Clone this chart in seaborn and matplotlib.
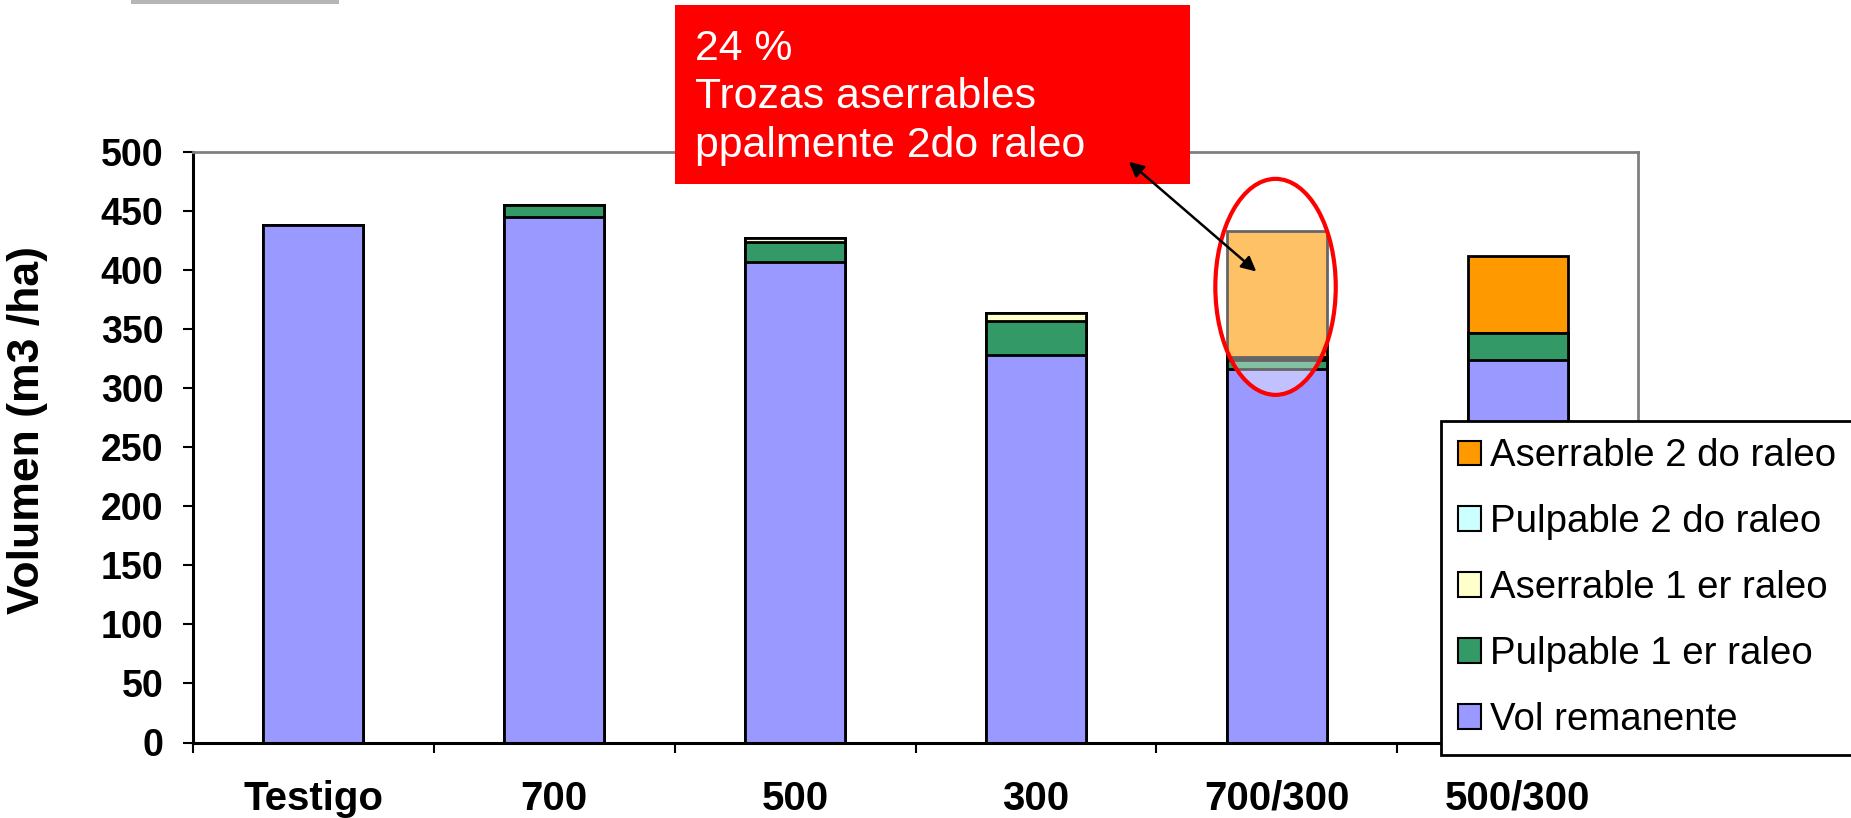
import numpy as np
import pandas as pd
import matplotlib
matplotlib.use("Agg")
import matplotlib.pyplot as plt
from matplotlib.patches import Patch, Rectangle, Ellipse
import seaborn as sns

# Treatments (thinning regimes, trees/ha)
categories = ["Testigo", "700", "500", "300", "700/300", "500/300"]

# Volume components, m3/ha
vol_remanente = [438, 445, 407, 328, 316, 324]
pulpable_1er = [0, 10, 17, 29, 8, 23]
aserrable_1er = [0, 0, 3, 7, 1, 0]
pulpable_2do = [0, 0, 0, 0, 2, 0]
aserrable_2do = [0, 0, 0, 0, 106, 65]

layer_names = ["Vol remanente", "Pulpable 1 er raleo", "Aserrable 1 er raleo",
               "Pulpable 2 do raleo", "Aserrable 2 do raleo"]
layer_values = [vol_remanente, pulpable_1er, aserrable_1er, pulpable_2do, aserrable_2do]
layer_colors = ["#9999FF", "#339966", "#FFFFCC", "#CCFFFF", "#FF9900"]

y_ticks = list(range(0, 501, 50))

sns.set_style("white")
plt.rcParams["font.family"] = ["Liberation Sans", "DejaVu Sans"]
plt.rcParams["text.color"] = "black"
plt.rcParams["axes.labelcolor"] = "black"

W, H = 1851, 818
fig = plt.figure(figsize=(W / 100, H / 100), dpi=100)
ax = fig.add_axes([193 / W, 1 - 742.5 / H, 1445 / W, 590.2 / H])

# Stacked bars: draw cumulative totals from the top layer down
cum = np.cumsum(np.array(layer_values, dtype=float), axis=0)
for i in reversed(range(len(layer_names))):
    df = pd.DataFrame({"Tratamiento": categories, "Volumen": cum[i]})
    sns.barplot(data=df, x="Tratamiento", y="Volumen", order=categories,
                color=layer_colors[i], saturation=1, edgecolor="black",
                linewidth=2.0, width=0.415, ax=ax, zorder=2, errorbar=None)

ax.set_xlim(-0.5, 5.5)
ax.set_ylim(0, 500)
ax.set_yticks(y_ticks)
ax.set_xticks(range(len(categories)))
ax.set_xticklabels(categories, fontsize=29, fontweight="bold")
ax.set_xticks(np.arange(-0.5, len(categories), 1), minor=True)
ax.tick_params(axis="x", which="major", bottom=True, length=0, pad=27,
               labelcolor="black")
ax.tick_params(axis="x", which="minor", bottom=True, length=7.2, width=1.5,
               direction="out", color="black")
ax.tick_params(axis="y", left=True, length=7.2, width=1.5, direction="out",
               color="black", labelcolor="black", labelsize=27, pad=14)
for lab in ax.get_yticklabels():
    lab.set_fontweight("bold")

ax.set_xlabel("")
ax.set_ylabel("Volumen (m3 /ha)", fontsize=32, fontweight="bold", color="black")
ax.yaxis.set_label_coords(-0.1, 0.53)

for s in ["top", "right"]:
    ax.spines[s].set_color("#808080")
    ax.spines[s].set_linewidth(2)
for s in ["left", "bottom"]:
    ax.spines[s].set_color("black")
    ax.spines[s].set_linewidth(2.2)

# Highlight of the second-thinning sawlog share
ax.add_patch(Ellipse((3.995, 386), width=0.5, height=183,
                     facecolor=(1, 1, 1, 0.4), edgecolor="#FF0000",
                     linewidth=3, zorder=4))

# Callout box
ax.add_patch(Rectangle((675 / W, 1 - 184 / H), 515 / W, 179 / H,
                       transform=fig.transFigure, facecolor="#FF0000",
                       edgecolor="none", clip_on=False, zorder=6))
ax.text(695 / W, 1 - 29 / H, "24 %\nTrozas aserrables\nppalmente 2do raleo",
        transform=fig.transFigure, color="white", fontsize=30.75, ha="left",
        va="top", linespacing=1.27, zorder=7)
ax.annotate("", xy=(3.915, 399), xytext=(3.386, 492),
            arrowprops=dict(arrowstyle="<|-|>", color="black", lw=1.8,
                            mutation_scale=22, shrinkA=0, shrinkB=0),
            annotation_clip=False, zorder=8)

# Small grey bar at the top-left edge
fig.add_artist(Rectangle((131 / W, 1 - 4 / H), 208 / W, 4 / H,
                         transform=fig.transFigure, facecolor="#B4B6B8",
                         edgecolor="none"))

handles = [Patch(facecolor=c, edgecolor="black", linewidth=1.5, label=n)
           for n, c in zip(reversed(layer_names), reversed(layer_colors))]
leg = fig.legend(handles=handles, loc="upper left",
                 bbox_to_anchor=(1441 / W, 1 - 421 / H),
                 bbox_transform=fig.transFigure, fontsize=27.6, frameon=True,
                 fancybox=False, framealpha=1, edgecolor="black",
                 borderaxespad=0, handlelength=0.6, handleheight=0.6,
                 handletextpad=0.22, labelspacing=0.78, borderpad=0.45)
leg.get_frame().set_linewidth(2)

fig.savefig("out.png", dpi=100)
